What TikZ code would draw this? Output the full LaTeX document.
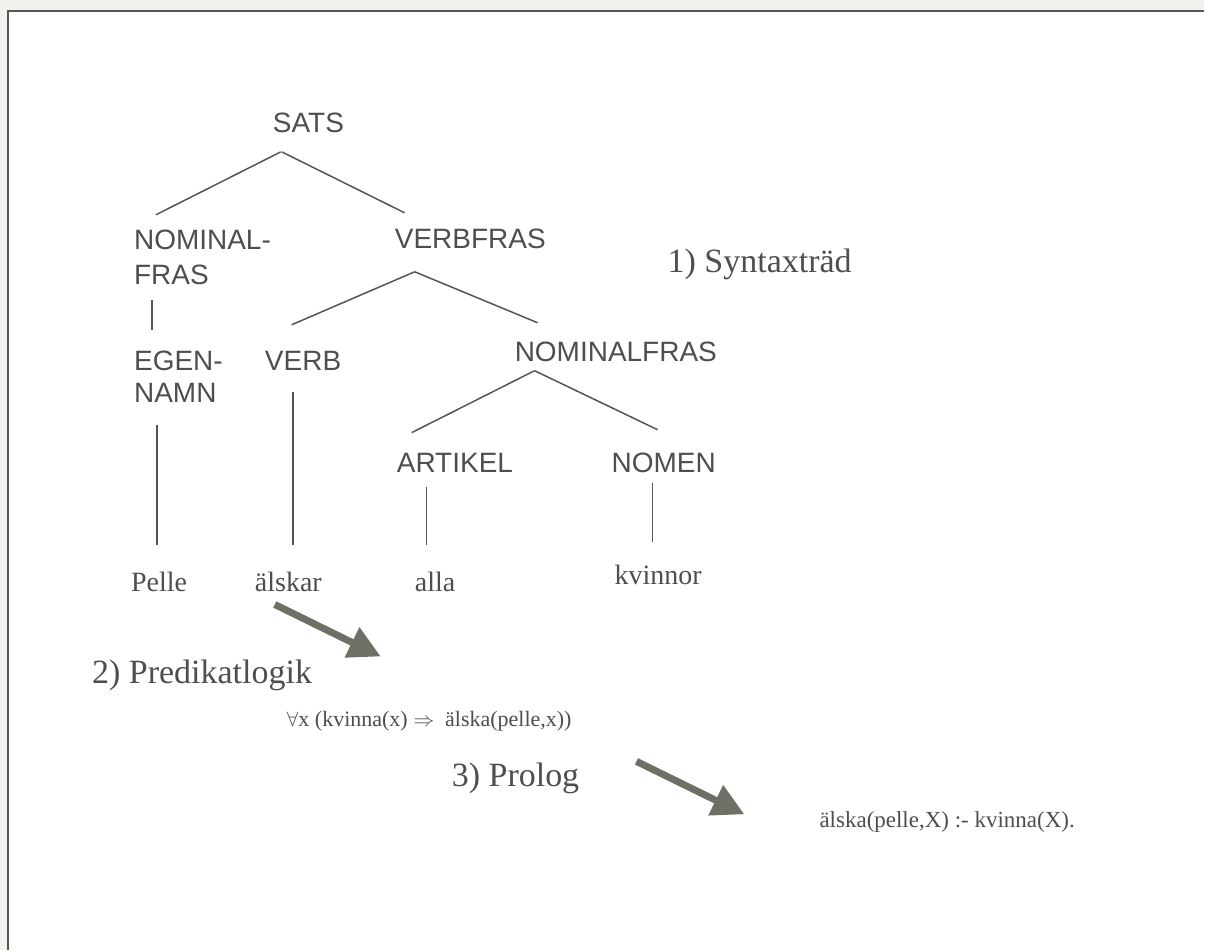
\documentclass[tikz,border=0pt]{standalone}
\usepackage{fontspec}
\setmainfont{Liberation Serif}
\setsansfont{Liberation Sans}
\usetikzlibrary{arrows.meta}
\definecolor{ink}{HTML}{4E4E4E}
\definecolor{edge}{HTML}{555555}
\definecolor{arrowgray}{HTML}{6F6F66}
\definecolor{margin}{HTML}{F2F2EC}
\begin{document}
\begin{tikzpicture}[x=1pt,y=-1pt,
  cat/.style={font=\sffamily\fontsize{28}{35}\selectfont, text=ink, inner sep=0pt, anchor=base west, align=left},
  word/.style={font=\rmfamily\fontsize{28}{34}\selectfont, text=ink, inner sep=0pt, anchor=base west},
  caption/.style={font=\rmfamily\fontsize{34}{40}\selectfont, text=ink, inner sep=0pt, anchor=base west},
  formula/.style={font=\rmfamily\fontsize{22}{27}\selectfont, text=ink, inner sep=0pt, anchor=base west},
  branch/.style={draw=edge, line width=1.5pt},
  bigarrow/.style={draw=arrowgray, line width=7pt, -{Triangle[length=32pt,width=32pt]}}
]
% page, margin and the frame (top and left edges only)
\path[fill=margin] (0,0) rectangle (1205,951);
\fill[white] (8,11) rectangle (1205,951);
\draw[edge, line width=2pt] (8,951) -- (8,11) -- (1205,11);

% syntax tree (two-line labels are placed by their last baseline)
\node[cat] (sats) at (273,133) {SATS};
\node[cat] (np1)  at (134,285) {NOMINAL-\\FRAS};
\node[cat] (vp)   at (395,249) {VERBFRAS};
\node[cat, font=\sffamily\fontsize{28}{32}\selectfont] (pn) at (134,403) {EGEN-\\NAMN};
\node[cat] (verb) at (265,371) {VERB};
\node[cat] (np2)  at (515,362) {NOMINALFRAS};
\node[cat] (art)  at (397,473) {ARTIKEL};
\node[cat] (noun) at (612,473) {NOMEN};

\node[word] (w1) at (131,592) {Pelle};
\node[word] (w2) at (255,592) {älskar};
\node[word] (w3) at (415,592) {alla};
\node[word] (w4) at (615,585) {kvinnor};

\draw[branch] ([shift={(8,19)}]sats.base west) -- ([shift={(22,-70)}]np1.base west);
\draw[branch] ([shift={(9,19)}]sats.base west) -- ([shift={(10,-36)}]vp.base west);
\draw[branch] ([shift={(18,15)}]np1.base west) -- ([shift={(18,-73)}]pn.base west);
\draw[branch] ([shift={(20,23)}]vp.base west) -- ([shift={(27,-46)}]verb.base west);
\draw[branch] ([shift={(20,23)}]vp.base west) -- ([shift={(23,-39)}]np2.base west);
\draw[branch] ([shift={(23,22)}]pn.base west) -- ([shift={(26,-47)}]w1.base west);
\draw[branch] ([shift={(28,21)}]verb.base west) -- ([shift={(38,-47)}]w2.base west);
\draw[branch] ([shift={(20,9)}]np2.base west) -- ([shift={(15,-40)}]art.base west);
\draw[branch] ([shift={(20,9)}]np2.base west) -- ([shift={(46,-43)}]noun.base west);
\draw[branch] ([shift={(30,14)}]art.base west) -- ([shift={(12,-47)}]w3.base west);
\draw[branch] ([shift={(41,10)}]noun.base west) -- ([shift={(38,-43)}]w4.base west);

% the three stages
\node[caption] (l1) at (668,273) {1) Syntaxträd};
\node[caption] (l2) at (92,684) {2) Predikatlogik};
\node[formula] (fol) at (287,727) {$\forall$x (kvinna(x)$\;\Rightarrow$\ \ älska(pelle,x))};
\node[caption] (l3) at (452,787) {3) Prolog};
\node[formula, font=\rmfamily\fontsize{23}{28}\selectfont] (pro) at (820,828) {älska(pelle,X) :- kvinna(X).};

\draw[bigarrow] ([shift={(20,13)}]w2.base west) -- ([shift={(94,-70)}]fol.base west);
\draw[bigarrow] ([shift={(350,35)}]fol.base west) -- ([shift={(-75,-13)}]pro.base west);
\end{tikzpicture}
\end{document}
